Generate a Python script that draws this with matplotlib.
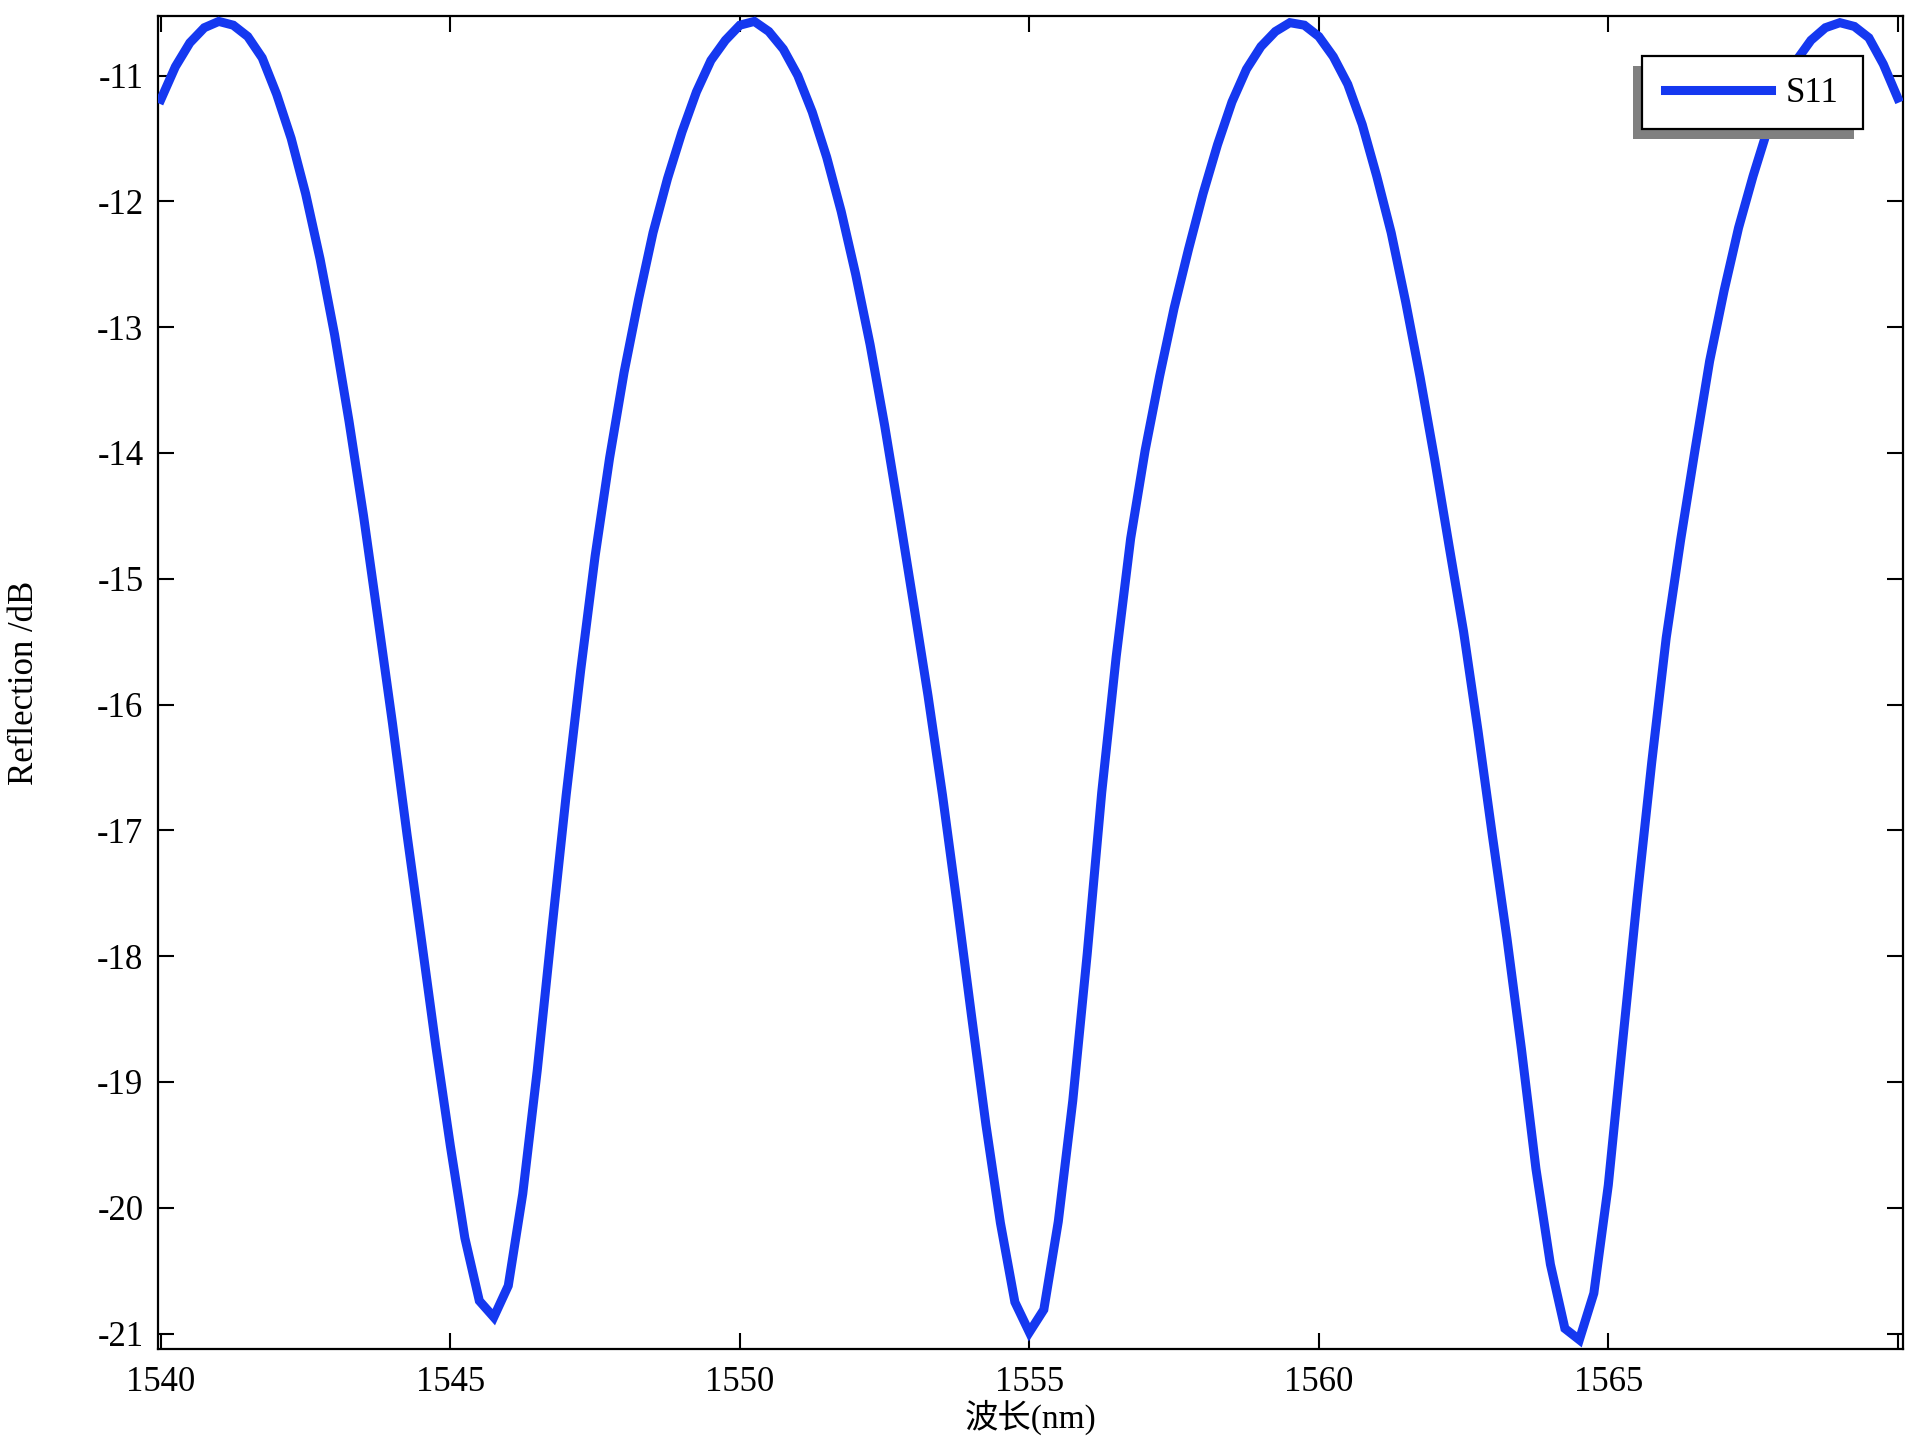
import numpy as np
import matplotlib
matplotlib.use("Agg")
import matplotlib.pyplot as plt
from matplotlib.patches import Rectangle

plt.rcParams['font.family'] = ['Liberation Serif', 'Noto Sans CJK SC', 'DejaVu Sans']
plt.rcParams['axes.unicode_minus'] = False

# ---- data ----
wl_start, wl_stop, wl_step = 1540.0, 1570.0, 0.25
wavelength = np.arange(wl_start, wl_stop + wl_step / 2, wl_step)

s11_part1 = [-11.19, -10.93, -10.74, -10.62, -10.57, -10.60, -10.69, -10.86, -11.15, -11.50,
             -11.94, -12.46, -13.06, -13.75, -14.50, -15.32, -16.15, -17.03, -17.87, -18.72,
             -19.51, -20.24, -20.74, -20.87, -20.62, -19.89, -18.91, -17.80, -16.72, -15.73,
             -14.82, -14.04, -13.36, -12.78, -12.25, -11.82, -11.45, -11.13, -10.88, -10.72]
s11_part2 = [-10.60, -10.57, -10.65, -10.79, -11.00, -11.29, -11.65, -12.08, -12.58, -13.14,
             -13.78, -14.48, -15.20, -15.93, -16.72, -17.58, -18.47, -19.34, -20.12, -20.75,
             -20.99, -20.81, -20.11, -19.15, -17.98, -16.70, -15.62, -14.68, -13.98, -13.39,
             -12.85, -12.38, -11.94, -11.55, -11.21, -10.95, -10.77, -10.65, -10.58]
s11_part3 = [-10.60, -10.69, -10.85, -11.07, -11.39, -11.80, -12.25, -12.80, -13.40, -14.05,
             -14.74, -15.42, -16.21, -17.05, -17.86, -18.74, -19.69, -20.45, -20.96, -21.05,
             -20.68, -19.82, -18.67, -17.53, -16.46, -15.47, -14.69, -13.97, -13.27, -12.71,
             -12.21, -11.80, -11.43, -11.12, -10.88, -10.72, -10.62, -10.58, -10.61, -10.70,
             -10.91, -11.18]
s11 = np.array(s11_part1 + s11_part2 + s11_part3)

x_ticks = [1540, 1545, 1550, 1555, 1560, 1565, 1570]
x_tick_labels = ['1540', '1545', '1550', '1555', '1560', '1565', '']
y_ticks = [-21, -20, -19, -18, -17, -16, -15, -14, -13, -12, -11]
y_tick_labels = ['-21', '-20', '-19', '-18', '-17', '-16', '-15', '-14', '-13', '-12', '-11']

series_name = 'S11'
x_label = '波长(nm)'
y_label = 'Reflection /dB'

# ---- figure ----
W, H = 1920, 1440
fig = plt.figure(figsize=(19.2, 14.4), dpi=100)
ax_l, ax_r, ax_t, ax_b = 158, 1903, 16, 1349
ax = fig.add_axes([ax_l / W, 1 - ax_b / H, (ax_r - ax_l) / W, (ax_b - ax_t) / H])

line, = ax.plot(wavelength, s11, color='#1538f0', lw=6.5, solid_joinstyle='miter',
                label=series_name, zorder=3)

ax.set_xlim(1539.95, 1570.09)
ax.set_ylim(-21.123, -10.527)
ax.set_xticks(x_ticks)
ax.set_xticklabels(x_tick_labels)
ax.set_yticks(y_ticks)
ax.set_yticklabels(y_tick_labels)

for sp in ax.spines.values():
    sp.set_linewidth(1.6)
ax.tick_params(axis='both', which='major', direction='in', top=True, right=True,
               length=11.5, width=1.5, labelsize=25, colors='black')
ax.tick_params(axis='x', pad=12)
ax.tick_params(axis='y', pad=10.5)

ax.set_xlabel(x_label, fontsize=24)
ax.xaxis.set_label_coords(0.5, -0.038)
ax.set_ylabel(y_label, fontsize=25)
ax.yaxis.set_label_coords(-0.0668, 0.5)

# ---- legend with offset grey shadow ----
aw, ah = ax_r - ax_l, ax_b - ax_t
def fx(px):
    return (px - ax_l) / aw
def fy(py):
    return (ax_b - py) / ah

bx0, bx1, by0, by1 = 1642, 1863, 56, 129
shadow = Rectangle((fx(bx0 - 9), fy(by1 + 10)), fx(bx1) - fx(bx0), fy(by0) - fy(by1),
                   transform=ax.transAxes, facecolor='#808080', edgecolor='none',
                   zorder=8, clip_on=False)
frame = Rectangle((fx(bx0), fy(by1)), fx(bx1) - fx(bx0), fy(by0) - fy(by1),
                  transform=ax.transAxes, facecolor='white', edgecolor='black',
                  linewidth=1.6, zorder=9, clip_on=False)
ax.add_patch(shadow)
ax.add_patch(frame)

leg = ax.legend(handles=[line], loc='center left', bbox_to_anchor=(fx(1665), fy(94)),
                frameon=False, fontsize=25, borderpad=0, borderaxespad=0,
                handlelength=3.05, handletextpad=0.42)
leg.set_zorder(10)

fig.savefig('out.png', dpi=100, facecolor='white')
